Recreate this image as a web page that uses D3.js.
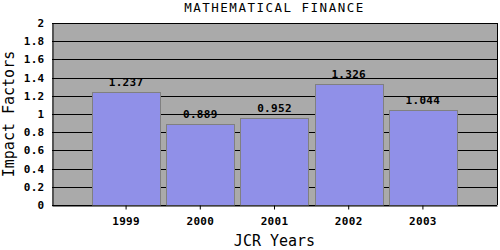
<!DOCTYPE html>
<html>
<head>
<meta charset="utf-8">
<script src="https://cdn.jsdelivr.net/npm/d3@7"></script>
<style>
  body { margin: 0; background: #fff; }
  svg { display: block; }
</style>
</head>
<body>
<div id="chart"></div>
<script>
const years = ["1999", "2000", "2001", "2002", "2003"]
const impactFactors = [1.237, 0.889, 0.952, 1.326, 1.044]
const yTicks = [0, 0.2, 0.4, 0.6, 0.8, 1, 1.2, 1.4, 1.6, 1.8, 2]

const width = 500
const height = 250
const margin = { top: 23, right: 3, bottom: 45, left: 52 }
const mono = "'DejaVu Sans Mono', monospace"

const svg = d3.select("#chart")
  .append("svg")
  .attr("width", width)
  .attr("height", height)

const chartWidth = width - margin.left - margin.right
const chartHeight = height - margin.top - margin.bottom

const g = svg.append("g")
  .attr("transform", `translate(${margin.left},${margin.top})`)

// Scales
const xScale = d3.scaleBand()
  .domain(years)
  .range([0, chartWidth])
  .paddingInner(0.083)
  .paddingOuter(0.54)

const yScale = d3.scaleLinear()
  .domain([0, 2])
  .range([chartHeight, 0])

// Plot background
g.append("rect")
  .attr("width", chartWidth)
  .attr("height", chartHeight)
  .attr("fill", "#aaaaaa")

// Gridlines
g.append("g")
  .selectAll("line")
  .data(yTicks)
  .enter()
  .append("line")
  .attr("x1", 0)
  .attr("x2", chartWidth)
  .attr("y1", d => Math.round(yScale(d)) + 0.5)
  .attr("y2", d => Math.round(yScale(d)) + 0.5)
  .attr("stroke", "#000")

// Bars
g.selectAll(".bar")
  .data(impactFactors)
  .enter()
  .append("rect")
  .attr("class", "bar")
  .attr("x", (d, i) => Math.round(xScale(years[i])) + 0.5)
  .attr("y", d => Math.round(yScale(d)) + 0.5)
  .attr("width", Math.round(xScale.bandwidth()))
  .attr("height", d => chartHeight - Math.round(yScale(d)))
  .attr("fill", "#9090e8")
  .attr("stroke", "#808080")

// Value labels
g.selectAll(".value")
  .data(impactFactors)
  .enter()
  .append("text")
  .attr("x", (d, i) => xScale(years[i]) + xScale.bandwidth() / 2)
  .attr("y", d => yScale(d) - 6)
  .attr("text-anchor", "middle")
  .attr("font-family", mono)
  .attr("font-weight", "bold")
  .attr("font-size", "11px")
  .attr("letter-spacing", "0.3px")
  .text(d => d3.format(".3f")(d))

// Right border
g.append("line")
  .attr("x1", chartWidth + 0.5)
  .attr("x2", chartWidth + 0.5)
  .attr("y1", 0)
  .attr("y2", chartHeight)
  .attr("stroke", "#000")

// X axis
const xAxis = g.append("g")
  .attr("transform", `translate(0,${chartHeight + 0.5})`)
  .call(d3.axisBottom(xScale).tickSize(4).tickSizeOuter(0))

xAxis.selectAll("text")
  .attr("dy", "1.1em")
  .attr("font-family", mono)
  .attr("font-weight", "bold")
  .attr("font-size", "11px")
  .attr("letter-spacing", "0.3px")
  .attr("fill", "#000")

// Y axis
const yAxis = g.append("g")
  .attr("transform", "translate(0.5,0)")
  .call(d3.axisLeft(yScale).tickValues(yTicks).tickSize(0).tickPadding(8)
    .tickFormat(d => String(d)))

yAxis.selectAll("text")
  .attr("font-family", mono)
  .attr("font-weight", "bold")
  .attr("font-size", "11px")
  .attr("letter-spacing", "0.3px")
  .attr("fill", "#000")

g.selectAll(".domain, .tick line")
  .attr("stroke", "#000")

// Title
svg.append("text")
  .attr("x", margin.left + chartWidth / 2)
  .attr("y", 12)
  .attr("text-anchor", "middle")
  .attr("font-family", mono)
  .attr("font-size", "12.5px")
  .attr("letter-spacing", "1.5px")
  .text("MATHEMATICAL FINANCE")

// Y axis label
svg.append("text")
  .attr("transform", "rotate(-90)")
  .attr("x", -114)
  .attr("y", 14)
  .attr("text-anchor", "middle")
  .attr("font-family", mono)
  .attr("font-size", "15px")
  .text("Impact Factors")

// X axis label
svg.append("text")
  .attr("x", margin.left + chartWidth / 2)
  .attr("y", 246)
  .attr("text-anchor", "middle")
  .attr("font-family", mono)
  .attr("font-size", "15px")
  .text("JCR Years")
</script>
</body>
</html>
